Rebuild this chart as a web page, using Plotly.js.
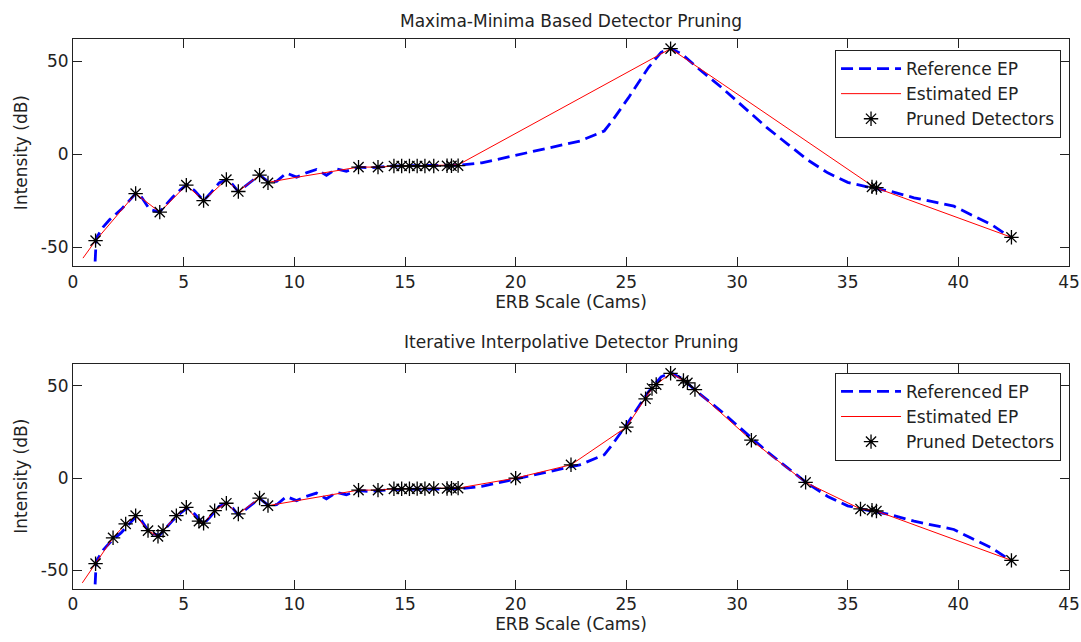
<!DOCTYPE html>
<html>
<head>
<meta charset="utf-8">
<script src="https://cdn.plot.ly/plotly-3.0.1.min.js"></script>
<style>html,body{margin:0;padding:0;background:#fff;}#chart{width:1081px;height:642px;}</style>
</head>
<body>
<div id="chart"></div>
<script>
// Reference excitation pattern (same in both panels)
const refX = [1.0, 1.05, 1.36, 1.66, 2.18, 2.6, 2.85, 3.1, 3.46, 3.9, 4.2, 4.5, 4.85, 5.15, 5.5, 5.9, 6.2, 6.6, 6.95, 7.2, 7.47, 7.9, 8.43, 8.8, 9.2, 9.64, 10.1, 10.54, 11.0, 11.45, 11.9, 12.35, 12.9, 13.4, 13.8, 14.5, 15.5, 16.5, 17.4, 18.47, 19.95, 21.6, 22.9, 24.0, 24.36, 25.1, 26.0, 26.57, 27.0, 27.5, 28.2, 29.3, 30.25, 31.35, 32.3, 33.2, 34.1, 35.0, 36.1, 36.9, 38.0, 39.1, 39.8, 40.55, 41.5, 42.4];
const refY = [-57.5, -45, -39, -35, -29.5, -24, -20.8, -23, -29.5, -31, -27, -23, -19, -16.2, -19.5, -24.8, -21, -15.3, -13.5, -16, -20, -16, -11, -14.5, -14.4, -10, -12.2, -9.9, -8.1, -11.2, -7.8, -9, -6.8, -7.2, -6.8, -6.2, -6, -5.9, -5.8, -4.5, -0.5, 3.6, 7.2, 12.6, 18, 30.5, 46.7, 54.8, 57, 54, 46.7, 36, 26, 14.4, 5.4, -3, -9.9, -15, -18, -19.7, -23.3, -26, -27.8, -32.3, -37.7, -44.9];

// Top panel: Maxima-Minima based pruning
const estTopX = [0.45, 1.02, 2.83, 3.92, 5.12, 5.9, 6.93, 7.47, 8.43, 8.81, 9.94, 10.84, 11.9, 12.9, 13.78, 14.5, 15.5, 16.5, 17.4, 27.0, 36.2, 42.4];
const estTopY = [-55.7, -46.3, -21, -31, -16.5, -24.8, -13.5, -19.9, -11.1, -15, -12.6, -10.8, -8.6, -6.8, -6.8, -6.3, -6.1, -6.0, -5.6, 56.8, -17.6, -44.5];
const detTopX = [1.02, 2.83, 3.92, 5.12, 5.9, 6.93, 7.47, 8.43, 8.81, 12.9, 13.78, 14.5, 14.85, 15.2, 15.55, 15.9, 16.3, 16.9, 17.1, 17.4, 27.0, 36.1, 36.3, 42.4];
const detTopY = [-46.3, -21, -31, -16.5, -24.8, -13.5, -19.9, -11.1, -15.3, -6.8, -6.8, -6.2, -6.2, -6.2, -6.2, -6.2, -6.2, -6.1, -6.1, -6.0, 56.8, -17.4, -17.8, -44.5];

// Bottom panel: Iterative interpolative pruning
const estBotX = [0.42, 1.02, 1.81, 2.38, 2.83, 3.39, 3.84, 4.07, 4.67, 5.12, 5.69, 5.9, 6.4, 6.93, 7.47, 8.43, 8.81, 9.94, 10.84, 11.9, 12.9, 13.78, 14.5, 15.5, 16.5, 17.4, 20.0, 22.5, 25.0, 25.87, 26.16, 26.35, 27.0, 27.58, 27.76, 28.1, 30.65, 33.1, 35.58, 36.1, 36.3, 42.4];
const estBotY = [-56.7, -46.3, -32.3, -24.8, -20.3, -28.4, -31.5, -28.4, -20.3, -15.8, -23.3, -24.4, -17.6, -13.6, -19.4, -10.8, -14.9, -12.6, -10.8, -8.6, -6.5, -6.5, -5.8, -5.6, -5.5, -5.4, 0, 7.2, 27.6, 42.9, 48.5, 50.6, 56.7, 52.8, 51.5, 47.9, 20.5, -2.3, -16.7, -17.3, -17.8, -44.5];
const detBotX = [1.02, 1.81, 2.38, 2.83, 3.39, 3.84, 4.07, 4.67, 5.12, 5.69, 5.9, 6.4, 6.93, 7.47, 8.43, 8.81, 12.9, 13.78, 14.5, 14.85, 15.2, 15.55, 15.9, 16.3, 16.9, 17.1, 17.4, 20.0, 22.5, 25.0, 25.87, 26.16, 26.35, 27.0, 27.58, 27.76, 28.1, 30.65, 33.1, 35.58, 36.1, 36.3, 42.4];
const detBotY = [-46.3, -32.3, -24.8, -20.3, -28.4, -31.5, -28.4, -20.3, -15.8, -23.3, -24.4, -17.6, -13.6, -19.4, -10.8, -14.9, -6.5, -6.5, -5.8, -5.8, -5.8, -5.7, -5.7, -5.6, -5.6, -5.5, -5.4, 0, 7.2, 27.6, 42.9, 48.5, 50.6, 56.7, 52.8, 51.5, 47.9, 20.5, -2.3, -16.7, -17.3, -17.8, -44.5];

const xTicks = [0, 5, 10, 15, 20, 25, 30, 35, 40, 45];
const yTicks = [-50, 0, 50];

const FONT = 'DejaVu Sans, Verdana, sans-serif';
const INK = '#222222';

const blueLine = {color: '#0000ff', width: 2.8, dash: '12px,6px'};
const redLine = {color: '#ff0000', width: 1};
const starMarker = {symbol: 'asterisk-open', size: 12, color: '#000', line: {color: '#000', width: 1.3}};

const traces = [
  {x: refX, y: refY, type: 'scatter', mode: 'lines', name: 'Reference EP', line: blueLine, xaxis: 'x', yaxis: 'y', legend: 'legend'},
  {x: estTopX, y: estTopY, type: 'scatter', mode: 'lines', name: 'Estimated EP', line: redLine, xaxis: 'x', yaxis: 'y', legend: 'legend'},
  {x: detTopX, y: detTopY, type: 'scatter', mode: 'markers', name: 'Pruned Detectors', marker: starMarker, xaxis: 'x', yaxis: 'y', legend: 'legend'},
  {x: refX, y: refY, type: 'scatter', mode: 'lines', name: 'Referenced EP', line: blueLine, xaxis: 'x2', yaxis: 'y2', legend: 'legend2'},
  {x: estBotX, y: estBotY, type: 'scatter', mode: 'lines', name: 'Estimated EP', line: redLine, xaxis: 'x2', yaxis: 'y2', legend: 'legend2'},
  {x: detBotX, y: detBotY, type: 'scatter', mode: 'markers', name: 'Pruned Detectors', marker: starMarker, xaxis: 'x2', yaxis: 'y2', legend: 'legend2'}
];

function xAxis(domainAnchor) {
  return {
    anchor: domainAnchor, range: [0, 45], tickvals: xTicks, ticktext: xTicks.map(String),
    ticks: 'inside', ticklen: 9, tickcolor: INK, tickwidth: 1,
    showline: true, linecolor: INK, linewidth: 1, mirror: 'ticks',
    showgrid: false, zeroline: false,
    tickfont: {family: FONT, size: 17, color: INK},
    title: {text: 'ERB Scale (Cams)', font: {family: FONT, size: 17, color: INK}, standoff: 4}
  };
}
function yAxis(domain, anchor) {
  return {
    domain: domain, anchor: anchor, range: [-60, 62], tickvals: yTicks, ticktext: yTicks.map(String),
    ticks: 'inside', ticklen: 9, tickcolor: INK, tickwidth: 1,
    showline: true, linecolor: INK, linewidth: 1, mirror: 'ticks',
    showgrid: false, zeroline: false,
    tickfont: {family: FONT, size: 17, color: INK},
    title: {text: 'Intensity (dB)', font: {family: FONT, size: 17, color: INK}, standoff: 8}
  };
}

const legendBase = {
  xref: 'paper', yref: 'paper', xanchor: 'right', yanchor: 'top',
  bgcolor: '#ffffff', bordercolor: INK, borderwidth: 1,
  font: {family: FONT, size: 17, color: INK}, itemwidth: 60, tracegroupgap: 0
};

const layout = {
  width: 1081, height: 642,
  margin: {l: 73, r: 12, t: 39, b: 53},
  paper_bgcolor: '#ffffff', plot_bgcolor: '#ffffff',
  showlegend: true,
  font: {family: FONT, size: 17, color: INK},
  xaxis: xAxis('y'),
  yaxis: yAxis([0.587, 1], 'x'),
  xaxis2: xAxis('y2'),
  yaxis2: yAxis([0, 0.41], 'x2'),
  legend: Object.assign({}, legendBase, {x: 0.992, y: 0.98}),
  legend2: Object.assign({}, legendBase, {x: 0.992, y: 0.393}),
  annotations: [
    {text: 'Maxima-Minima Based Detector Pruning', xref: 'paper', yref: 'paper', x: 0.5, y: 1.0327, xanchor: 'center', yanchor: 'middle', showarrow: false, font: {family: FONT, size: 17, color: INK}},
    {text: 'Iterative Interpolative Detector Pruning', xref: 'paper', yref: 'paper', x: 0.5, y: 0.449, xanchor: 'center', yanchor: 'middle', showarrow: false, font: {family: FONT, size: 17, color: INK}}
  ]
};

Plotly.newPlot('chart', traces, layout, {staticPlot: true, displayModeBar: false});
</script>
</body>
</html>
